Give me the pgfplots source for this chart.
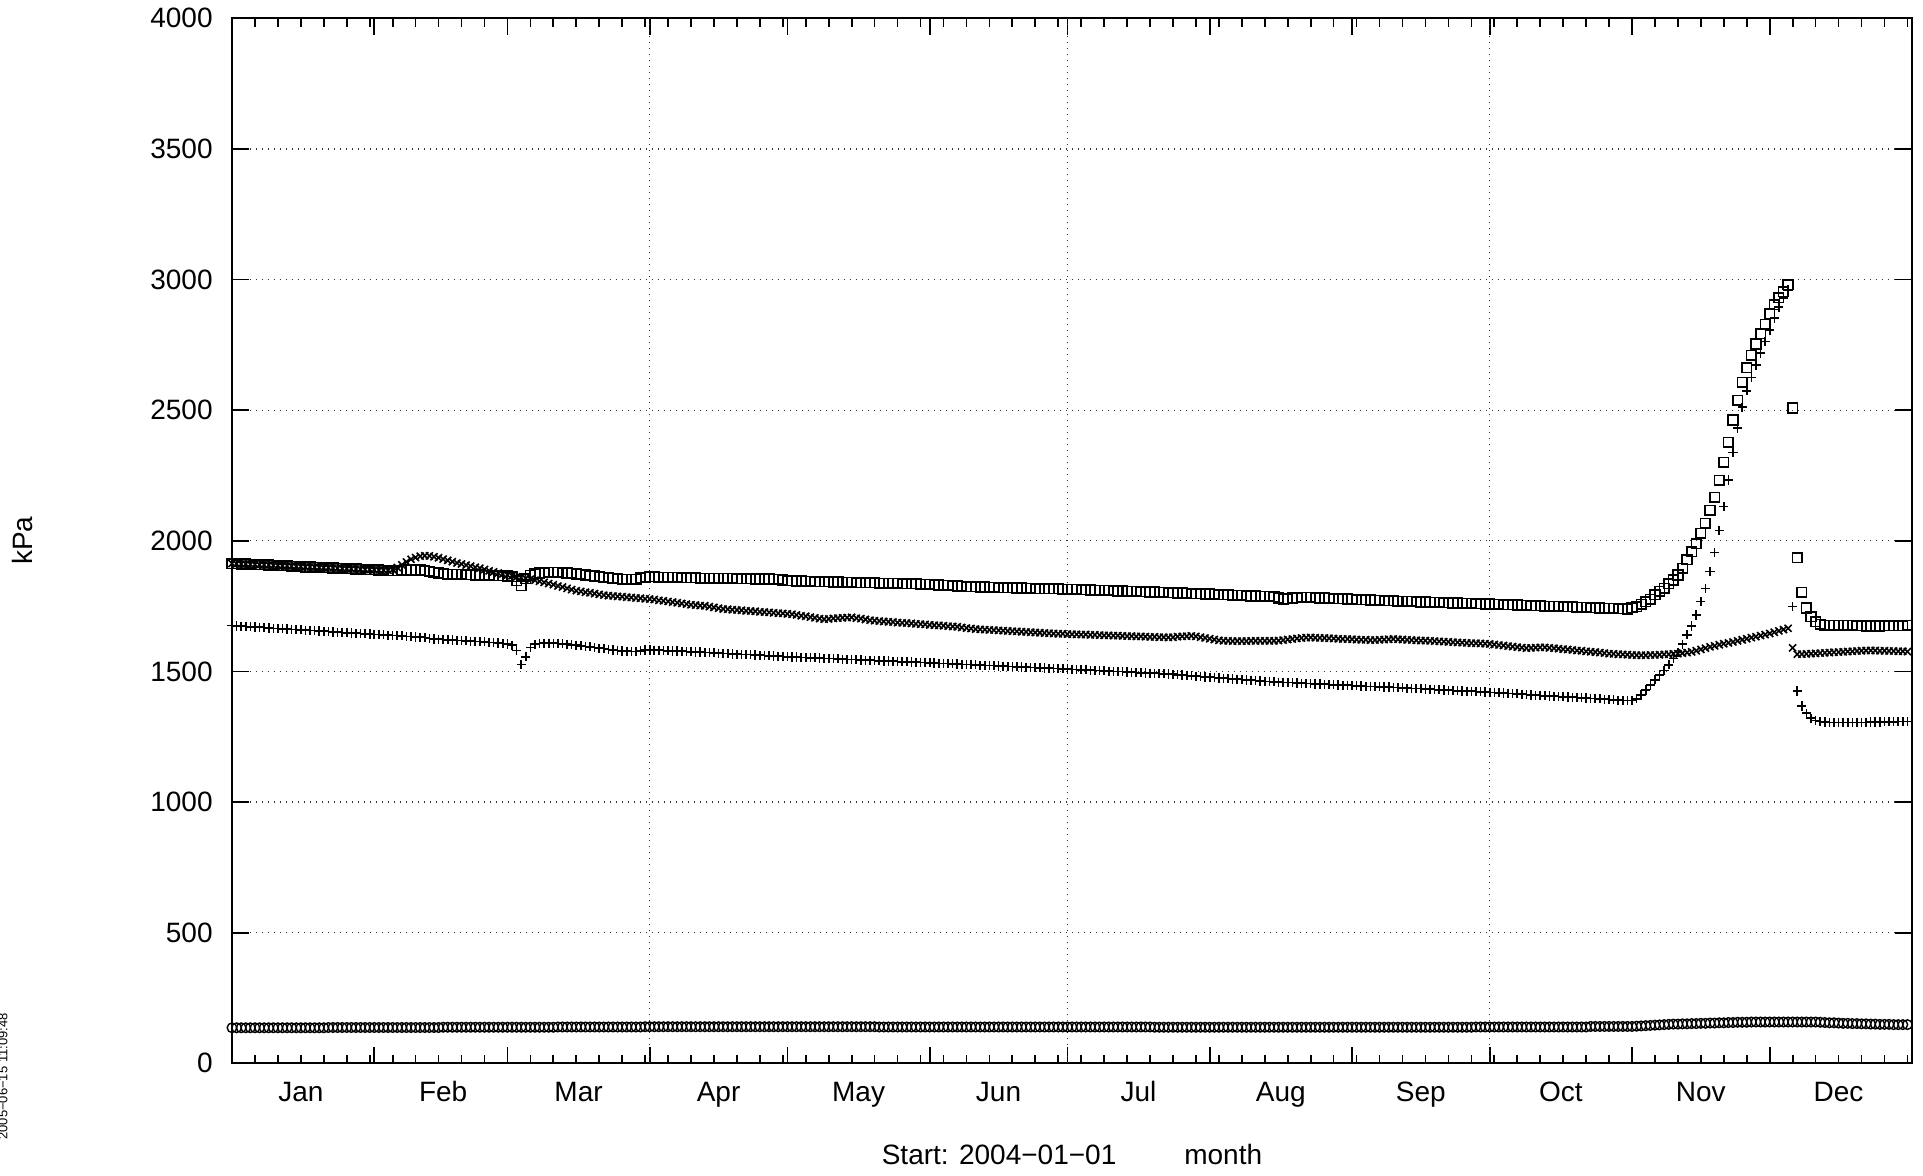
\documentclass[border=0pt]{standalone}
\usepackage{fontspec}
\setmainfont{Liberation Sans}
\usepackage{pgfplots}
\usepackage{pgfplotstable}
\pgfplotsset{compat=1.18}
\pgfplotstableread{
d S C P O
0 1913 1913 1675 136
1 1912 1912 1674 136
2 1911 1911 1673 136
3 1911 1911 1672 136
4 1910 1910 1671 136
5 1909 1909 1670 136
6 1908 1908 1669 136
7 1908 1908 1668 136
8 1907 1907 1666 136
9 1906 1906 1665 136
10 1905 1905 1664 136
11 1904 1904 1663 136
12 1904 1904 1662 136
13 1903 1903 1661 136
14 1902 1902 1660 136
15 1901 1901 1659 136
16 1900 1900 1658 136
17 1900 1900 1657 136
18 1899 1899 1656 136
19 1898 1898 1655 136
20 1897 1897 1654 136
21 1897 1897 1653 137
22 1896 1896 1651 137
23 1895 1895 1650 137
24 1894 1894 1649 137
25 1893 1893 1648 137
26 1893 1893 1647 137
27 1892 1892 1646 137
28 1891 1891 1645 137
29 1890 1890 1644 137
30 1890 1890 1643 137
31 1889 1889 1642 137
32 1888 1888 1641 137
33 1887 1887 1640 137
34 1886 1887 1639 137
35 1886 1890 1638 137
36 1885 1898 1637 137
37 1887 1908 1636 137
38 1888 1919 1634 137
39 1888 1929 1633 137
40 1888 1936 1632 137
41 1888 1941 1631 137
42 1886 1943 1630 137
43 1883 1942 1626 137
44 1880 1939 1624 137
45 1877 1935 1623 137
46 1874 1930 1622 138
47 1872 1925 1621 138
48 1872 1920 1620 138
49 1871 1915 1619 138
50 1871 1911 1618 138
51 1870 1907 1617 138
52 1870 1903 1616 138
53 1869 1899 1615 138
54 1869 1895 1614 138
55 1868 1890 1613 138
56 1868 1885 1611 138
57 1867 1881 1610 138
58 1867 1877 1609 138
59 1866 1873 1607 138
60 1865 1869 1605 138
61 1862 1866 1600 138
62 1847 1862 1580 138
63 1828 1859 1526 138
64 1855 1856 1556 138
65 1868 1853 1592 138
66 1874 1849 1604 138
67 1877 1845 1607 138
68 1878 1841 1608 138
69 1879 1836 1608 138
70 1879 1832 1608 138
71 1879 1827 1607 139
72 1878 1823 1606 139
73 1877 1818 1604 139
74 1875 1813 1602 139
75 1873 1809 1600 139
76 1871 1806 1598 139
77 1869 1803 1596 139
78 1867 1801 1594 139
79 1865 1798 1592 139
80 1863 1795 1589 139
81 1861 1792 1587 139
82 1859 1790 1584 139
83 1857 1789 1582 139
84 1855 1787 1580 139
85 1853 1786 1578 139
86 1852 1784 1577 139
87 1852 1783 1576 139
88 1853 1781 1576 139
89 1858 1780 1579 139
90 1861 1778 1582 140
91 1862 1777 1582 140
92 1862 1775 1581 140
93 1861 1772 1581 140
94 1861 1770 1580 140
95 1861 1768 1579 140
96 1860 1765 1578 140
97 1860 1763 1578 140
98 1859 1760 1577 140
99 1859 1758 1576 140
100 1858 1755 1575 140
101 1858 1754 1574 140
102 1857 1752 1574 140
103 1857 1751 1573 140
104 1857 1748 1572 140
105 1857 1745 1571 140
106 1856 1742 1570 140
107 1856 1739 1569 140
108 1856 1738 1568 140
109 1856 1736 1567 140
110 1855 1735 1566 140
111 1855 1734 1565 140
112 1855 1732 1564 140
113 1855 1731 1564 140
114 1854 1730 1563 140
115 1854 1728 1562 140
116 1854 1727 1561 140
117 1854 1726 1560 140
118 1853 1724 1559 140
119 1853 1723 1558 140
120 1850 1722 1557 140
121 1847 1720 1556 140
122 1847 1719 1555 140
123 1846 1716 1555 140
124 1846 1713 1554 140
125 1845 1711 1553 140
126 1845 1708 1552 140
127 1844 1705 1552 140
128 1844 1702 1551 140
129 1843 1700 1550 140
130 1843 1701 1549 140
131 1842 1703 1549 140
132 1842 1704 1548 140
133 1841 1705 1547 140
134 1841 1706 1546 140
135 1841 1707 1546 140
136 1840 1704 1545 140
137 1840 1702 1544 140
138 1839 1699 1543 140
139 1839 1696 1543 140
140 1839 1694 1542 140
141 1838 1693 1541 139
142 1838 1691 1540 139
143 1837 1690 1540 139
144 1837 1689 1539 139
145 1837 1687 1538 139
146 1836 1686 1537 139
147 1836 1685 1537 139
148 1835 1684 1536 139
149 1835 1682 1535 139
150 1834 1681 1534 139
151 1834 1680 1534 139
152 1833 1678 1533 139
153 1832 1677 1532 139
154 1831 1676 1531 139
155 1830 1675 1531 139
156 1829 1673 1530 139
157 1828 1672 1529 139
158 1827 1671 1528 139
159 1826 1668 1527 139
160 1825 1666 1527 139
161 1824 1664 1526 139
162 1824 1662 1525 139
163 1823 1661 1524 139
164 1823 1660 1523 139
165 1822 1659 1523 139
166 1822 1658 1522 139
167 1821 1657 1521 139
168 1821 1656 1520 139
169 1820 1655 1519 139
170 1820 1654 1519 139
171 1819 1653 1518 139
172 1819 1652 1517 139
173 1818 1651 1516 139
174 1818 1650 1515 139
175 1817 1649 1515 139
176 1817 1648 1514 139
177 1817 1647 1513 139
178 1816 1646 1512 139
179 1816 1645 1511 139
180 1816 1644 1511 139
181 1815 1644 1510 139
182 1815 1643 1509 139
183 1814 1642 1508 139
184 1814 1642 1507 139
185 1813 1641 1506 139
186 1813 1641 1506 139
187 1812 1640 1505 139
188 1811 1640 1504 139
189 1811 1639 1503 139
190 1810 1638 1502 139
191 1810 1638 1501 139
192 1809 1637 1500 139
193 1808 1637 1499 139
194 1808 1636 1499 139
195 1807 1635 1498 139
196 1807 1635 1497 139
197 1806 1634 1496 139
198 1805 1634 1495 139
199 1805 1633 1494 139
200 1804 1632 1493 139
201 1804 1632 1493 138
202 1803 1631 1492 138
203 1803 1631 1491 138
204 1802 1630 1490 138
205 1801 1631 1489 138
206 1800 1633 1487 138
207 1800 1634 1486 138
208 1799 1635 1485 138
209 1798 1636 1483 138
210 1798 1634 1482 138
211 1797 1631 1481 138
212 1796 1628 1479 138
213 1796 1625 1478 138
214 1795 1622 1477 138
215 1794 1619 1475 138
216 1793 1617 1474 138
217 1793 1617 1473 138
218 1792 1616 1471 138
219 1791 1616 1470 138
220 1791 1616 1469 138
221 1790 1616 1467 138
222 1789 1617 1466 138
223 1789 1617 1465 138
224 1788 1617 1463 138
225 1787 1617 1462 138
226 1787 1617 1461 138
227 1786 1617 1460 138
228 1781 1618 1459 138
229 1777 1620 1458 138
230 1779 1622 1457 138
231 1781 1624 1457 138
232 1782 1626 1456 138
233 1783 1628 1455 138
234 1783 1629 1454 138
235 1783 1630 1453 138
236 1782 1629 1452 138
237 1781 1628 1452 138
238 1781 1628 1451 138
239 1780 1627 1450 138
240 1779 1626 1449 138
241 1778 1625 1448 138
242 1778 1624 1447 138
243 1777 1624 1447 138
244 1776 1623 1446 138
245 1775 1622 1445 138
246 1775 1621 1444 138
247 1774 1621 1443 138
248 1773 1620 1443 138
249 1772 1620 1442 138
250 1772 1621 1441 138
251 1771 1622 1440 138
252 1770 1623 1440 138
253 1770 1624 1439 138
254 1769 1623 1438 138
255 1769 1622 1437 138
256 1768 1621 1436 138
257 1768 1620 1435 138
258 1767 1619 1434 138
259 1766 1618 1434 138
260 1766 1618 1433 138
261 1765 1617 1432 138
262 1765 1616 1431 138
263 1764 1615 1430 138
264 1763 1614 1429 138
265 1763 1613 1428 138
266 1762 1612 1427 138
267 1762 1611 1426 138
268 1761 1610 1425 138
269 1760 1609 1424 138
270 1760 1608 1424 138
271 1759 1608 1423 139
272 1759 1607 1422 139
273 1758 1606 1421 139
274 1758 1605 1420 139
275 1757 1603 1419 139
276 1757 1601 1418 139
277 1756 1599 1417 139
278 1755 1597 1416 139
279 1755 1595 1415 139
280 1754 1593 1414 139
281 1753 1591 1413 139
282 1753 1589 1411 139
283 1752 1590 1410 139
284 1751 1591 1409 139
285 1751 1592 1408 139
286 1750 1592 1407 139
287 1750 1590 1406 139
288 1749 1589 1405 139
289 1749 1587 1404 139
290 1748 1585 1403 139
291 1747 1584 1402 139
292 1747 1582 1401 139
293 1746 1580 1400 139
294 1746 1579 1399 139
295 1745 1577 1398 139
296 1744 1575 1397 141
297 1744 1574 1396 141
298 1743 1572 1395 141
299 1742 1570 1394 141
300 1742 1568 1392 141
301 1741 1567 1391 141
302 1740 1566 1390 141
303 1740 1565 1389 141
304 1739 1564 1388 141
305 1744 1563 1389 141
306 1748 1562 1395 142
307 1757 1562 1410 143
308 1767 1562 1429 144
309 1776 1563 1448 145
310 1793 1563 1468 146
311 1806 1564 1487 147
312 1818 1565 1503 148
313 1835 1566 1525 149
314 1850 1567 1550 150
315 1869 1568 1572 150
316 1895 1570 1604 151
317 1927 1572 1640 151
318 1958 1575 1674 152
319 1989 1579 1716 152
320 2029 1584 1767 153
321 2067 1589 1818 153
322 2116 1594 1882 154
323 2167 1598 1955 154
324 2231 1602 2039 155
325 2301 1606 2131 155
326 2377 1609 2233 156
327 2462 1613 2338 156
328 2538 1617 2431 157
329 2606 1621 2511 157
330 2663 1625 2574 157
331 2710 1629 2625 158
332 2753 1633 2673 158
333 2792 1637 2718 158
334 2829 1641 2763 158
335 2869 1645 2807 158
336 2903 1650 2852 158
337 2931 1655 2895 158
338 2954 1660 2930 158
339 2980 1665 2961 158
340 2508 1590 1748 158
341 1936 1566 1425 158
342 1803 1566 1368 158
343 1743 1567 1340 158
344 1710 1568 1321 158
345 1691 1569 1312 158
346 1680 1570 1308 157
347 1677 1571 1306 156
348 1676 1572 1305 155
349 1676 1573 1304 155
350 1677 1574 1304 154
351 1677 1575 1304 153
352 1677 1576 1304 153
353 1676 1577 1304 152
354 1675 1578 1305 152
355 1675 1579 1305 151
356 1674 1580 1305 151
357 1674 1580 1306 150
358 1674 1580 1306 150
359 1674 1579 1306 149
360 1675 1579 1307 149
361 1675 1578 1307 149
362 1675 1578 1307 148
363 1675 1577 1308 148
364 1675 1577 1308 148
365 1676 1576 1308 148
}\data

\begin{document}
\begin{tikzpicture}
\begin{axis}[
  scale only axis, width=840pt, height=522.5pt,
  xmin=0, xmax=366, ymin=0, ymax=4000,
  clip=false,
  axis line style={line width=1.2pt},
  xtick={0,31,60,91,121,152,182,213,244,274,305,335,366},
  xticklabels={},
  minor xtick={5,10,...,365},
  extra x ticks={91,182,274},
  extra x tick labels={},
  extra x tick style={grid=major, major tick length=0pt},
  ytick={0,500,...,4000},
  ymajorgrids,
  major tick length=8.3pt, minor tick length=4.2pt,
  tick style={black, line width=0.85pt},
  grid style={black!80, line width=0.65pt, dash pattern=on 0.6pt off 2.4pt},
  tick label style={font=\fontsize{14}{16.8}\selectfont},
  /pgf/number format/assume math mode=true,
  /pgf/number format/set thousands separator={},
  yticklabel style={anchor=east, inner sep=0pt, xshift=-9.5pt},
  xlabel={Start: 2004−01−01\hspace{34pt}month},
  xlabel style={font=\fontsize{14}{16.8}\selectfont, at={(axis description cs:0.5,-0.0965)}, anchor=base},
  ylabel={kPa},
  ylabel style={font=\fontsize{14}{16.8}\selectfont, at={(axis description cs:-0.125,0.5)}, anchor=center},
]
\addplot[black, only marks, mark=square, mark size=2.4pt, mark options={line width=0.8pt}] table[x=d, y=S] {\data};
\addplot[black, only marks, mark=x, mark size=2.5pt, mark options={line width=0.8pt}] table[x=d, y=C] {\data};
\addplot[black, only marks, mark=+, mark size=2.3pt, mark options={line width=0.8pt}] table[x=d, y=P] {\data};
\addplot[black, only marks, mark=o, mark size=2.4pt, mark options={line width=0.7pt}] table[x=d, y=O] {\data};

\begin{scope}[every node/.style={anchor=base, font=\fontsize{14}{16.8}\selectfont, yshift=-19.2pt}]
\node at (axis cs:15.0,0) {Jan};
\node at (axis cs:46,0) {Feb};
\node at (axis cs:75.5,0) {Mar};
\node at (axis cs:106,0) {Apr};
\node at (axis cs:136.5,0) {May};
\node at (axis cs:167,0) {Jun};
\node at (axis cs:197.5,0) {Jul};
\node at (axis cs:228.5,0) {Aug};
\node at (axis cs:259,0) {Sep};
\node at (axis cs:289.5,0) {Oct};
\node at (axis cs:320,0) {Nov};
\node at (axis cs:350,0) {Dec};
\end{scope}
\node[rotate=90, font=\fontsize{6.5}{7.8}\selectfont, inner sep=0pt] at (axis description cs:-0.1363,-0.0126) {2005−06−15 11:09:48};
\end{axis}
\pgfresetboundingbox
\path (-116pt,-56.35pt) rectangle (845.5pt,531.65pt);
\end{tikzpicture}
\end{document}
